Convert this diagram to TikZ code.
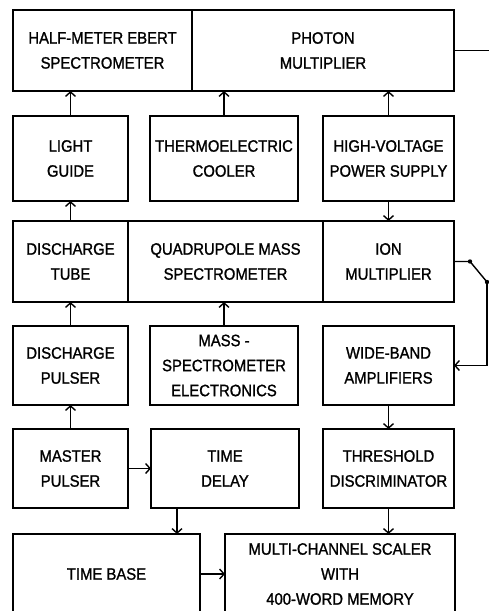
\documentclass[tikz,border=0pt]{standalone}
\usepackage{fontspec}
\setmainfont{Liberation Sans}[FakeStretch=0.9, FakeBold=1.2]
\usetikzlibrary{arrows.meta, positioning}

\begin{document}
\begin{tikzpicture}[
  x=1pt, y=-1pt,
  blk/.style  = {draw, line width=1.4pt, inner sep=0pt, outer sep=0pt, align=center,
                 font=\fontsize{16.5}{25}\selectfont},
  arr/.style  = {-{Straight Barb[length=4.5pt, width=10pt]}, line width=1.4pt},
  wire/.style = {line width=1.4pt},
  node distance = 0pt,
]
\useasboundingbox (0,0) rectangle (488,611);

% ── Spectrometer and photon multiplier ───────────────────────────────────────
\node[blk, minimum width=179pt, minimum height=81pt] (hm) at (102.5,50.5)
      {HALF-METER EBERT\\SPECTROMETER};
\node[blk, minimum width=262pt, minimum height=81pt, right=of hm] (pm)
      {PHOTON\\MULTIPLIER};

% ── Second row ───────────────────────────────────────────────────────────────
\node[blk, minimum width=115pt, minimum height=85pt] (lg) at (70.5,158.5)  {LIGHT\\GUIDE};
\node[blk, minimum width=148pt, minimum height=85pt] (tc) at (224,158.5)   {THERMOELECTRIC\\COOLER};
\node[blk, minimum width=131pt, minimum height=85pt] (hv) at (388.5,158.5) {HIGH-VOLTAGE\\POWER SUPPLY};

% ── Discharge tube, quadrupole, ion multiplier ───────────────────────────────
\node[blk, minimum width=115pt, minimum height=81pt] (dt) at (70.5,261.5) {DISCHARGE\\TUBE};
\node[blk, minimum width=195pt, minimum height=81pt, right=of dt]  (qms) {QUADRUPOLE MASS\\SPECTROMETER};
\node[blk, minimum width=131pt, minimum height=81pt, right=of qms] (im)  {ION\\MULTIPLIER};

% ── Fourth row ───────────────────────────────────────────────────────────────
\node[blk, minimum width=115pt, minimum height=79pt] (dp)  at (70.5,365.5)  {DISCHARGE\\PULSER};
\node[blk, minimum width=148pt, minimum height=79pt] (mse) at (224,365.5)   {MASS -\\SPECTROMETER\\ELECTRONICS};
\node[blk, minimum width=131pt, minimum height=79pt] (wb)  at (388.5,365.5) {WIDE-BAND\\AMPLIFIERS};

% ── Fifth row ────────────────────────────────────────────────────────────────
\node[blk, minimum width=115pt, minimum height=79pt] (mp) at (70.5,468.5)  {MASTER\\PULSER};
\node[blk, minimum width=148pt, minimum height=79pt] (td) at (225,468.5)   {TIME\\DELAY};
\node[blk, minimum width=131pt, minimum height=79pt] (th) at (388.5,468.5) {THRESHOLD\\DISCRIMINATOR};

% ── Time base and scaler ─────────────────────────────────────────────────────
\node[blk, minimum width=187pt, minimum height=80pt] (tb)  at (106.5,574) {TIME BASE};
\node[blk, minimum width=230pt, minimum height=80pt] (mcs) at (340,574)
      {MULTI-CHANNEL SCALER\\WITH\\400-WORD MEMORY};

% ── Connections ──────────────────────────────────────────────────────────────
\draw[arr] (lg.north)  -- (lg.north |- hm.south);
\draw[arr] (tc.north)  -- (tc.north |- pm.south);
\draw[arr] (hv.north)  -- (hv.north |- pm.south);
\draw[arr] (dt.north)  -- (lg.south);
\draw[arr] (hv.south)  -- (im.north);
\draw[arr] (dp.north)  -- (dt.south);
\draw[arr] (mse.north) -- (mse.north |- qms.south);
\draw[arr] (wb.south)  -- (th.north);
\draw[arr] (mp.north)  -- (dp.south);
\draw[arr] (mp.east)   -- (td.west);
\draw[arr] ([xshift=26pt]td.south west) -- ([xshift=26pt]td.south west |- tb.north);
\draw[arr] (th.south)  -- (th.south |- mcs.north);
\draw[arr] (tb.east)   -- (mcs.west);

% ── Output switch ────────────────────────────────────────────────────────────
\coordinate (pmout) at (490,50.5);
\coordinate (sw1)   at (470,261.5);
\coordinate (sw2)   at (487,282);

\draw[wire] (pm.east) -- (pmout);
\draw[wire] (im.east) -- (sw1) -- (sw2);
\draw[arr]  (sw2) |- (wb.east);
\fill (sw1) circle (2.2pt);
\fill (sw2) circle (2.2pt);

\end{tikzpicture}
\end{document}
